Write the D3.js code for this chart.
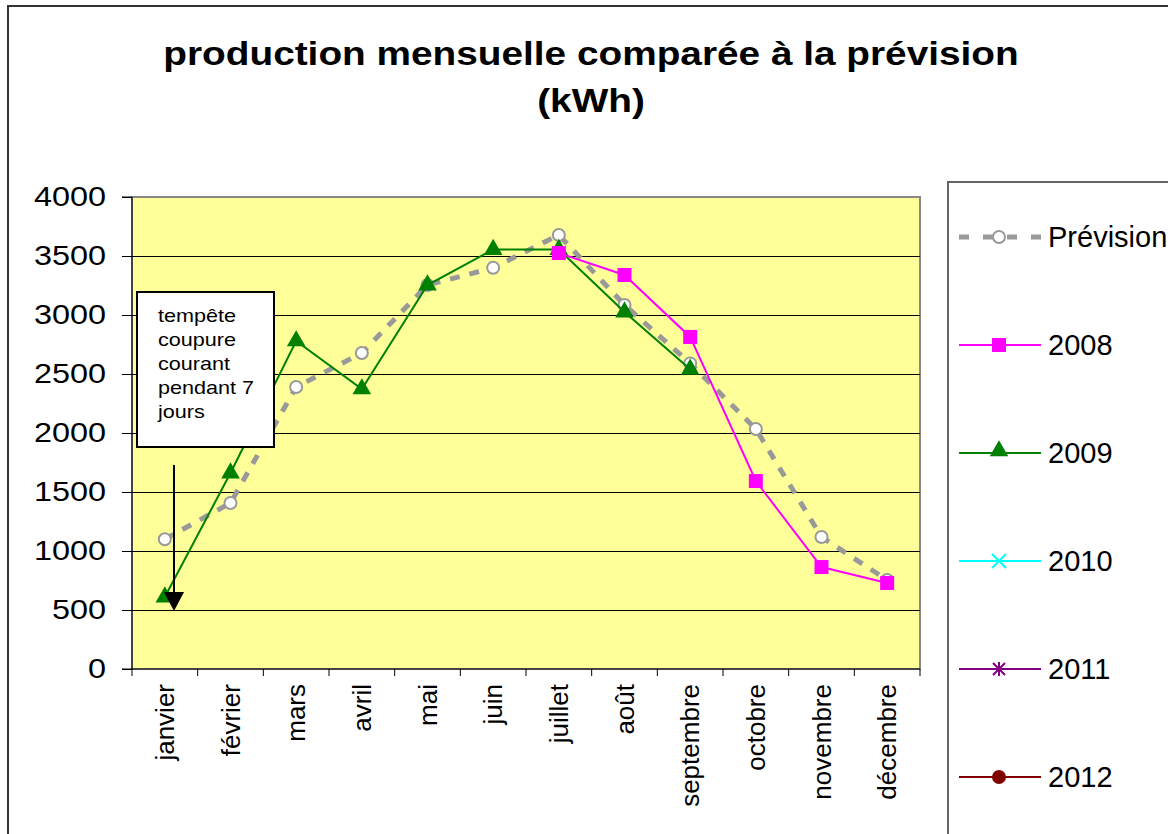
<!DOCTYPE html>
<html>
<head>
<meta charset="utf-8">
<script src="https://cdn.jsdelivr.net/npm/d3@7"></script>
<style>
  body { margin: 0; background: #fff; }
  text { font-family: "Liberation Sans", Arial, sans-serif; }
</style>
</head>
<body>
<script>
// data
var months = ["janvier", "février", "mars", "avril", "mai", "juin", "juillet",
  "août", "septembre", "octobre", "novembre", "décembre"];
var prevision = [1100, 1407, 2390, 2678, 3254, 3400, 3678, 3085, 2590, 2034, 1119, 754];
var y2008 = [null, null, null, null, null, null, 3525, 3339, 2814, 1593, 864, 729];
var y2009 = [610, 1661, 2780, 2373, 3254, 3555, 3555, 3025, 2540, null, null, null];
var yTicks = [0, 500, 1000, 1500, 2000, 2500, 3000, 3500, 4000];
var legendNames = ["Prévision", "2008", "2009", "2010", "2011", "2012"];

var svgWidth = 1168;
var svgHeight = 834;
var margin = { top: 197, left: 132 };
var width = 788;
var height = 472;
var sx = 1.2; // the original picture is a bit stretched sideways

var svg = d3.select("body").append("svg")
  .attr("width", svgWidth)
  .attr("height", svgHeight);

// outer chart border
svg.append("rect")
  .attr("x", 8).attr("y", 6)
  .attr("width", svgWidth + 10).attr("height", svgHeight + 10)
  .attr("fill", "#fff")
  .attr("stroke", "#333")
  .attr("stroke-width", 2);

// title
var titleG = svg.append("g").attr("transform", `translate(591, 0) scale(1.175, 1)`);
titleG.append("text")
  .attr("x", 0).attr("y", 65)
  .attr("text-anchor", "middle")
  .style("font-size", "33px").style("font-weight", "bold")
  .text("production mensuelle comparée à la prévision");
titleG.append("text")
  .attr("x", 0).attr("y", 112)
  .attr("text-anchor", "middle")
  .style("font-size", "33px").style("font-weight", "bold")
  .text("(kWh)");

var chartGroup = svg.append("g")
  .attr("transform", `translate(${margin.left}, ${margin.top})`);

var xScale = d3.scaleBand().domain(months).range([0, width]);
var yScale = d3.scaleLinear().domain([0, 4000]).range([height, 0]);

// plot background
chartGroup.append("rect")
  .attr("width", width).attr("height", height)
  .attr("fill", "#ffff99")
  .attr("stroke", "#888").attr("stroke-width", 2);

// gridlines
chartGroup.selectAll(".grid")
  .data(yTicks.filter(d => d > 0 && d < 4000))
  .enter().append("line")
  .attr("x1", 0).attr("x2", width)
  .attr("y1", d => Math.round(yScale(d)) + 0.5).attr("y2", d => Math.round(yScale(d)) + 0.5)
  .attr("stroke", "#000").attr("stroke-width", 1.2);

// y axis
var leftAxis = d3.axisLeft(yScale).tickValues(yTicks).tickFormat(d3.format("d"))
  .tickSize(10).tickPadding(7);
var yAxisG = chartGroup.append("g").call(leftAxis);
yAxisG.select(".domain").attr("stroke", "#000").attr("d", `M-10,${height}H0V0H-10`);
yAxisG.selectAll("text")
  .style("font-size", "27px").attr("fill", "#000")
  .style("font-family", "'Liberation Sans', Arial, sans-serif")
  .attr("x", -26 / sx)
  .attr("transform", `scale(${sx}, 1)`);

// x axis
var xAxisG = chartGroup.append("g").attr("transform", `translate(0, ${height})`);
xAxisG.append("line").attr("x1", 0).attr("x2", width).attr("stroke", "#000");
xAxisG.selectAll(".tk")
  .data(d3.range(13))
  .enter().append("line")
  .attr("x1", i => i * xScale.bandwidth()).attr("x2", i => i * xScale.bandwidth())
  .attr("y1", 0).attr("y2", 7)
  .attr("stroke", "#000");
xAxisG.selectAll(".lbl")
  .data(months)
  .enter().append("text")
  .attr("transform", d => `translate(${xScale(d) + xScale.bandwidth() / 2 + 9}, 15) rotate(-90)`)
  .attr("text-anchor", "end")
  .style("font-size", "26px")
  .text(d => d);

function cx(i) { return xScale(months[i]) + xScale.bandwidth() / 2; }

var lineGen = d3.line()
  .defined(d => d != null)
  .x((d, i) => cx(i))
  .y(d => yScale(d));

// prevision
chartGroup.append("path")
  .datum(prevision)
  .attr("d", lineGen)
  .attr("fill", "none")
  .attr("stroke", "#999")
  .attr("stroke-width", 5)
  .attr("stroke-dasharray", "10,10");
chartGroup.selectAll(".prev")
  .data(prevision)
  .enter().append("circle")
  .attr("cx", (d, i) => cx(i)).attr("cy", d => yScale(d))
  .attr("r", 6)
  .attr("fill", "#fff").attr("stroke", "#999").attr("stroke-width", 2);

// 2009
chartGroup.append("path")
  .datum(y2009)
  .attr("d", lineGen)
  .attr("fill", "none")
  .attr("stroke", "#008000")
  .attr("stroke-width", 2);
var tri = d3.symbol().type(d3.symbolTriangle).size(150);
chartGroup.selectAll(".t09")
  .data(y2009.map((v, i) => [v, i]).filter(d => d[0] != null))
  .enter().append("path")
  .attr("d", tri)
  .attr("transform", d => `translate(${cx(d[1])}, ${yScale(d[0])})`)
  .attr("fill", "#008000");

// 2008
chartGroup.append("path")
  .datum(y2008)
  .attr("d", lineGen)
  .attr("fill", "none")
  .attr("stroke", "#ff00ff")
  .attr("stroke-width", 2);
chartGroup.selectAll(".s08")
  .data(y2008.map((v, i) => [v, i]).filter(d => d[0] != null))
  .enter().append("rect")
  .attr("x", d => cx(d[1]) - 7).attr("y", d => yScale(d[0]) - 7)
  .attr("width", 14).attr("height", 14)
  .attr("fill", "#ff00ff");

// annotation
var note = svg.append("g");
note.append("rect")
  .attr("x", 137).attr("y", 292)
  .attr("width", 137).attr("height", 155)
  .attr("fill", "#fff").attr("stroke", "#000").attr("stroke-width", 2);
var noteText = note.append("g").attr("transform", `translate(158, 0) scale(${sx}, 1)`);
["tempête", "coupure", "courant", "pendant 7", "jours"].forEach(function(t, i) {
  noteText.append("text")
    .attr("x", 0).attr("y", 322 + i * 24)
    .style("font-size", "18px")
    .text(t);
});
note.append("line")
  .attr("x1", 174).attr("x2", 174)
  .attr("y1", 465).attr("y2", 595)
  .attr("stroke", "#000").attr("stroke-width", 2);
note.append("path")
  .attr("d", "M164,592 L184,592 L174,611 Z")
  .attr("fill", "#000");

// legend
var legend = svg.append("g");
legend.append("rect")
  .attr("x", 948).attr("y", 182)
  .attr("width", 300).attr("height", 700)
  .attr("fill", "#fff").attr("stroke", "#666").attr("stroke-width", 2);
var legColors = ["#999", "#ff00ff", "#008000", "#00ffff", "#800080", "#800000"];
legendNames.forEach(function(name, i) {
  var ly = 237 + i * 108;
  var g = legend.append("g").attr("transform", `translate(0, ${ly})`);
  if (i === 0) {
    g.append("line").attr("x1", 959).attr("x2", 1041)
      .attr("stroke", legColors[i]).attr("stroke-width", 5)
      .attr("stroke-dasharray", "10,14");
    g.append("circle").attr("cx", 999).attr("r", 6)
      .attr("fill", "#fff").attr("stroke", "#999").attr("stroke-width", 2);
  } else {
    g.append("line").attr("x1", 959).attr("x2", 1041)
      .attr("stroke", legColors[i]).attr("stroke-width", 2);
    if (i === 1) {
      g.append("rect").attr("x", 992).attr("y", -7).attr("width", 14).attr("height", 14)
        .attr("fill", legColors[i]);
    } else if (i === 2) {
      g.append("path").attr("d", tri).attr("transform", "translate(999,-2)").attr("fill", legColors[i]);
    } else if (i === 3) {
      g.append("path").attr("d", "M-7,-7L7,7M-7,7L7,-7").attr("transform", "translate(999,0)")
        .attr("stroke", legColors[i]).attr("stroke-width", 2);
    } else if (i === 4) {
      g.append("path").attr("d", "M-6,-6L6,6M-6,6L6,-6M0,-7L0,7").attr("transform", "translate(999,0)")
        .attr("stroke", legColors[i]).attr("stroke-width", 2);
    } else {
      g.append("circle").attr("cx", 999).attr("r", 7).attr("fill", legColors[i]);
    }
  }
  g.append("text")
    .attr("x", 1048).attr("y", 10)
    .style("font-size", "29px")
    .text(name);
});
</script>
</body>
</html>
